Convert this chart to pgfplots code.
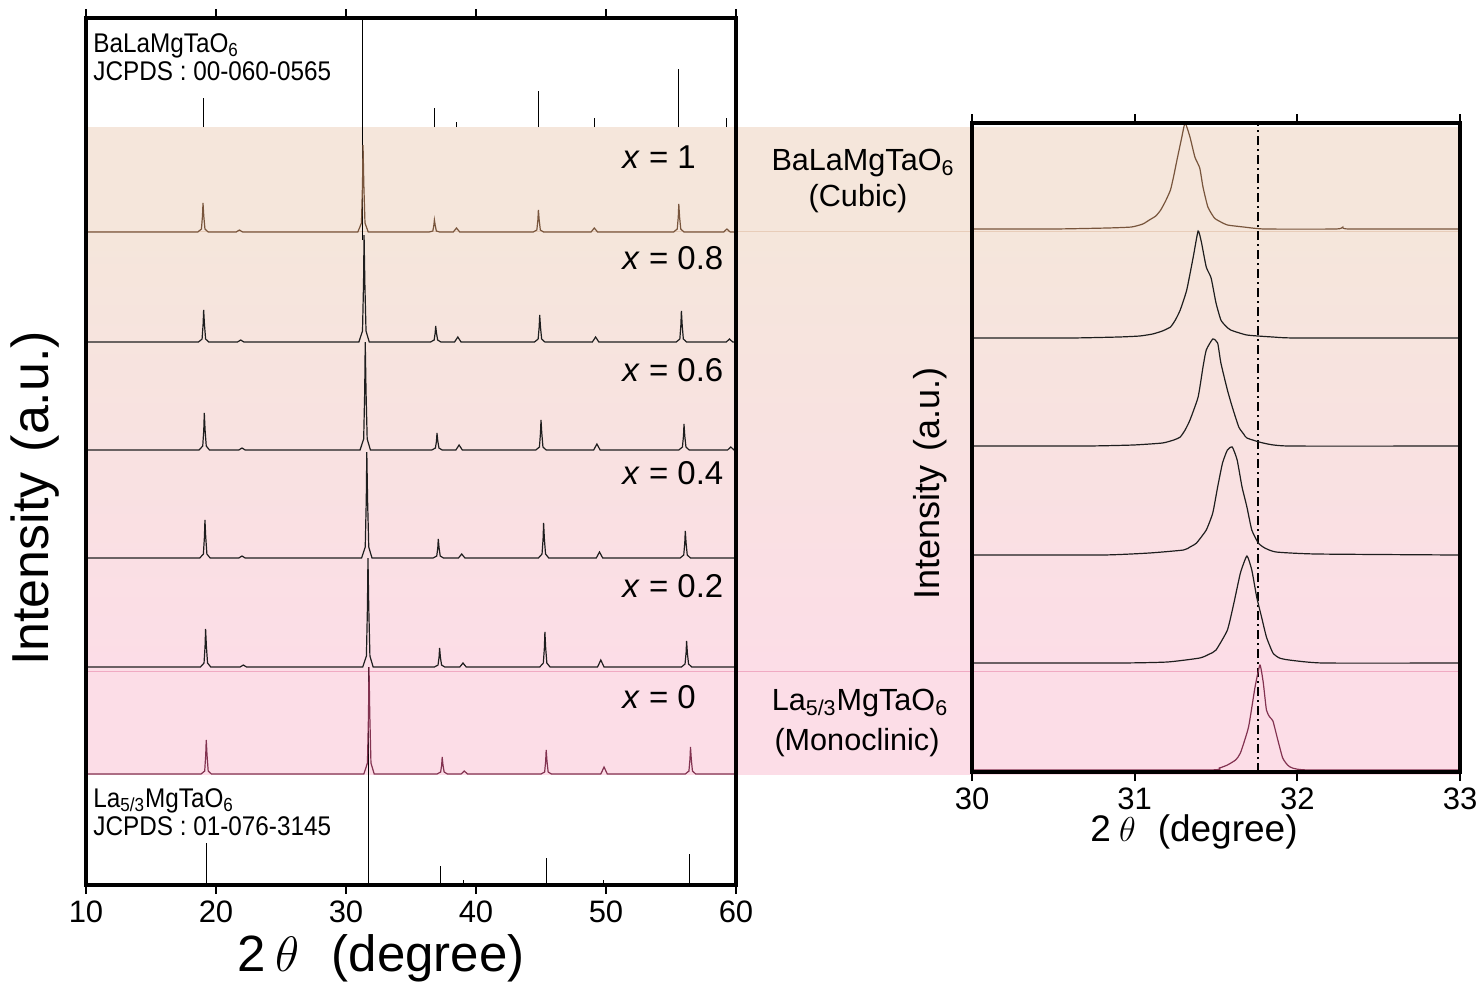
\documentclass[border=0pt]{standalone}
\usepackage{fontspec}
\setmainfont{Liberation Sans}
\newfontfamily\narrowfont[FakeStretch=0.9]{Liberation Sans}
\usepackage{pgfplots}
\pgfplotsset{compat=1.18}
\definecolor{bandbeige}{RGB}{245,230,219}
\definecolor{bandpink}{RGB}{252,221,231}
\definecolor{lnbeige}{RGB}{232,205,185}
\definecolor{lnpink}{RGB}{240,170,195}
\definecolor{cxone}{RGB}{120,85,60}
\definecolor{cxzero}{RGB}{130,50,80}
\definecolor{cmid}{RGB}{30,30,30}
\pgfplotsset{
  xrdaxis/.style={
    scale only axis, anchor=south west,
    ytick=\empty, tick align=outside, major tick length=4.5pt,
    tick style={black, line width=1pt},
    axis line style={line width=2.2pt},
    axis on top, clip=false,
    /pgf/number format/assume math mode=true,
    tick label style={font=\fontsize{15.5}{18}\selectfont},
  },
  stick/.style={black, line width=0.5pt, unbounded coords=jump},
  pat/.style={cmid, line width=0.6pt},
  rpat/.style={cmid, line width=0.6pt, smooth, tension=0.3},
}
\begin{document}
\begin{tikzpicture}
\path[use as bounding box] (0,0) rectangle (741pt,-493.5pt);
% background bands
\fill[bandbeige] (43pt,-63.5pt) rectangle (730pt,-116pt);
\shade[top color=bandbeige,bottom color=bandpink] (43pt,-116pt) rectangle (730pt,-335pt);
\fill[bandpink] (43pt,-335pt) rectangle (730pt,-387.5pt);
\draw[lnbeige,line width=0.5pt] (43pt,-115.5pt) -- (730pt,-115.5pt);
\draw[lnpink,line width=0.5pt] (43pt,-335.5pt) -- (730pt,-335.5pt);

% ---------------- left panel ----------------
\begin{axis}[xrdaxis,
  at={(43pt,-442.5pt)}, width=325pt, height=433.5pt,
  xmin=10, xmax=60, ymin=0, ymax=867,
  xtick={10,20,30,40,50,60},
  xlabel={2\hspace{5pt}$\theta$\hspace{16pt}(degree)},
  xlabel style={font=\fontsize{25.5}{29}\selectfont, at={(axis description cs:0.454,-0.085)}, anchor=center},
  ylabel={Intensity\hspace{10pt}(a.u.)},
  ylabel style={font=\fontsize{26}{30}\selectfont, at={(axis description cs:-0.078,0.446)}, anchor=center},
]
% reference sticks BaLaMgTaO6 (baseline 758)
\addplot[stick] coordinates {(19.0,758)(19.0,787)(19.0,nan)
 (31.3,645)(31.3,867)(31.3,nan)
 (36.8,758)(36.8,777)(36.8,nan)
 (38.5,758)(38.5,763)(38.5,nan)
 (44.8,758)(44.8,794)(44.8,nan)
 (49.1,758)(49.1,767)(49.1,nan)
 (55.6,758)(55.6,816)(55.6,nan)
 (59.3,758)(59.3,767)};
% reference sticks La5/3MgTaO6 (baseline 0)
\addplot[stick] coordinates {(19.3,0)(19.3,42)(19.3,nan)
 (31.75,0)(31.75,218)(31.75,nan)
 (37.3,0)(37.3,19)(37.3,nan)
 (39.0,0)(39.0,5)(39.0,nan)
 (45.4,0)(45.4,27)(45.4,nan)
 (49.8,0)(49.8,5)(49.8,nan)
 (56.4,0)(56.4,31)};
% x = 1
\addplot[cxone, line width=0.6pt] coordinates {(10,653)
 (18.6,653)(18.88,656)(18.96,669)(19.0,682)(19.06,669)(19.15,656)(19.4,653)
 (21.55,653)(21.8,655)(22.05,653)
 (30.91,653)(31.19,662)(31.27,701)(31.31,740)(31.37,701)(31.46,662)(31.71,653)
 (36.4,653)(36.68,654)(36.76,660)(36.8,665)(36.86,660)(36.95,654)(37.2,653)
 (38.25,653)(38.5,657)(38.75,653)
 (44.4,653)(44.68,655)(44.76,665)(44.8,675)(44.86,665)(44.95,655)(45.2,653)
 (48.85,653)(49.1,657)(49.35,653)
 (55.2,653)(55.48,656)(55.56,668)(55.6,681)(55.66,668)(55.75,656)(56.0,653)
 (59.05,653)(59.3,656)(59.55,653)(60,653)};
% x = 0.8
\addplot[pat] coordinates {(10,543)
 (18.65,543)(18.93,546)(19.01,561)(19.05,575)(19.11,561)(19.2,546)(19.45,543)
 (21.65,543)(21.9,545)(22.15,543)
 (30.99,543)(31.27,554)(31.35,602)(31.39,650)(31.45,602)(31.54,554)(31.79,543)
 (36.5,543)(36.78,545)(36.86,552)(36.9,559)(36.96,552)(37.05,545)(37.3,543)
 (38.35,543)(38.6,548)(38.85,543)
 (44.5,543)(44.78,546)(44.86,558)(44.9,570)(44.96,558)(45.05,546)(45.3,543)
 (48.95,543)(49.2,548)(49.45,543)
 (55.4,543)(55.68,546)(55.76,560)(55.8,574)(55.86,560)(55.95,546)(56.2,543)
 (59.25,543)(59.5,546)(59.75,543)(60,543)};
% x = 0.6
\addplot[pat] coordinates {(10,435)
 (18.7,435)(18.98,439)(19.06,455)(19.1,472)(19.16,455)(19.25,439)(19.5,435)
 (21.75,435)(22.0,437)(22.25,435)
 (31.08,435)(31.36,446)(31.44,494)(31.48,543)(31.54,494)(31.63,446)(31.88,435)
 (36.6,435)(36.88,437)(36.96,444)(37.0,452)(37.06,444)(37.15,437)(37.4,435)
 (38.45,435)(38.7,440)(38.95,435)
 (44.6,435)(44.88,438)(44.96,452)(45.0,465)(45.06,452)(45.15,438)(45.4,435)
 (49.05,435)(49.3,441)(49.55,435)
 (55.6,435)(55.88,438)(55.96,449)(56.0,461)(56.06,449)(56.15,438)(56.4,435)
 (59.35,435)(59.6,438)(59.85,435)(60,435)};
% x = 0.4
\addplot[pat] coordinates {(10,327)
 (18.75,327)(19.03,331)(19.11,348)(19.15,365)(19.21,348)(19.3,331)(19.55,327)
 (21.75,327)(22.0,329)(22.25,327)
 (31.2,327)(31.48,338)(31.56,385)(31.6,433)(31.66,385)(31.75,338)(32.0,327)
 (36.7,327)(36.98,329)(37.06,337)(37.1,346)(37.16,337)(37.25,329)(37.5,327)
 (38.65,327)(38.9,331)(39.15,327)
 (44.8,327)(45.08,331)(45.16,346)(45.2,362)(45.26,346)(45.35,331)(45.6,327)
 (49.25,327)(49.5,333)(49.75,327)
 (55.7,327)(55.98,330)(56.06,342)(56.1,354)(56.16,342)(56.25,330)(56.5,327)
 (60,327)};
% x = 0.2
\addplot[pat] coordinates {(10,218)
 (18.8,218)(19.08,222)(19.16,239)(19.2,256)(19.26,239)(19.35,222)(19.6,218)
 (21.85,218)(22.1,220)(22.35,218)
 (31.29,218)(31.57,229)(31.65,278)(31.69,327)(31.75,278)(31.84,229)(32.09,218)
 (36.8,218)(37.08,220)(37.16,228)(37.2,237)(37.26,228)(37.35,220)(37.6,218)
 (38.75,218)(39.0,222)(39.25,218)
 (44.9,218)(45.18,222)(45.26,237)(45.3,253)(45.36,237)(45.45,222)(45.7,218)
 (49.35,218)(49.6,225)(49.85,218)
 (55.8,218)(56.08,221)(56.16,232)(56.2,244)(56.26,232)(56.35,221)(56.6,218)
 (60,218)};
% x = 0
\addplot[cxzero, line width=0.6pt] coordinates {(10,111)
 (18.85,111)(19.13,114)(19.21,130)(19.25,145)(19.31,130)(19.4,114)(19.65,111)
 (31.37,111)(31.65,122)(31.73,170)(31.77,218)(31.83,170)(31.92,122)(32.17,111)
 (37.0,111)(37.28,113)(37.36,120)(37.4,128)(37.46,120)(37.55,113)(37.8,111)
 (38.85,111)(39.1,114)(39.35,111)
 (45.0,111)(45.28,113)(45.36,124)(45.4,135)(45.46,124)(45.55,113)(45.8,111)
 (49.6,111)(49.85,118)(50.1,111)
 (56.1,111)(56.38,114)(56.46,126)(56.5,138)(56.56,126)(56.65,114)(56.9,111)
 (60,111)};
\end{axis}

% ---------------- right panel ----------------
\begin{axis}[xrdaxis,
  at={(486pt,-386pt)}, width=244pt, height=324.5pt,
  xmin=30, xmax=33, ymin=0, ymax=649,
  xtick={30,31,32,33},
  xlabel={2\hspace{4pt}$\theta$\hspace{11pt}(degree)},
  xlabel style={font=\fontsize{18.5}{22}\selectfont, at={(axis description cs:0.455,-0.092)}, anchor=center},
  ylabel={Intensity\hspace{7pt}(a.u.)},
  ylabel style={font=\fontsize{18}{21}\selectfont, at={(axis description cs:-0.086,0.444)}, anchor=center},
]
\addplot[black, line width=1pt, dash pattern=on 4.5pt off 2pt on 1pt off 2pt] coordinates {(31.76,0)(31.76,649)};
% x = 1
\addplot[cxone, line width=0.6pt, smooth, tension=0.3] coordinates {(30.0,543)(30.5,543)(30.83,544)(30.98,545)(31.05,548)(31.09,552)(31.13,556)(31.16,562)(31.19,571)(31.22,582)(31.24,596)(31.26,612)(31.29,635)(31.31,649)(31.34,635)(31.37,615)(31.40,604)(31.42,585)(31.45,565)(31.49,554)(31.53,550)(31.57,547)(31.67,545)(31.8,543)(32.24,543)(32.28,545)(32.32,543)(33,543)};
% x = 0.8
\addplot[rpat] coordinates {(30,434)(30.6,434)(30.9,435)(31.03,436)(31.11,438)(31.17,441)(31.22,445)(31.25,452)(31.28,462)(31.32,482)(31.36,515)(31.39,541)(31.41,530)(31.44,505)(31.47,494)(31.50,469)(31.53,452)(31.56,446)(31.59,442)(31.69,437)(31.85,435)(32.0,434)(33,434)};
% x = 0.6
\addplot[rpat] coordinates {(30,326)(30.7,326)(30.99,327)(31.17,329)(31.24,332)(31.28,335)(31.31,342)(31.34,352)(31.39,375)(31.42,405)(31.44,422)(31.48,433)(31.51,429)(31.53,409)(31.57,382)(31.60,365)(31.64,345)(31.67,338)(31.69,334)(31.79,329)(31.95,326)(33,326)};
% x = 0.4
\addplot[rpat] coordinates {(30,217)(30.8,217)(31.09,219)(31.30,222)(31.34,225)(31.38,229)(31.44,242)(31.48,259)(31.51,285)(31.54,309)(31.57,322)(31.60,325)(31.63,312)(31.66,285)(31.69,265)(31.72,242)(31.76,229)(31.80,224)(31.87,220)(32.12,218)(33,217)};
% x = 0.2
\addplot[rpat] coordinates {(30,109)(30.9,109)(31.20,110)(31.40,114)(31.46,118)(31.50,122)(31.57,142)(31.61,169)(31.65,199)(31.69,216)(31.72,202)(31.75,175)(31.78,155)(31.81,135)(31.85,119)(31.89,114)(31.95,112)(32.16,109)(33,109)};
% x = 0
\addplot[cxzero, line width=0.6pt, smooth, tension=0.3] coordinates {(30,2)(31.44,2)(31.52,4)(31.57,7)(31.62,12)(31.65,19)(31.70,45)(31.74,85)(31.77,107)(31.79,90)(31.81,62)(31.83,55)(31.85,51)(31.88,32)(31.91,14)(31.94,7)(31.97,4)(32.08,2)(33,2)};
\end{axis}

% ---------------- annotations ----------------
\begin{scope}[every node/.style={inner sep=0pt}]
\node[anchor=base west, font=\narrowfont\fontsize{13.5}{16}\selectfont] at (46.5pt,-26pt) {BaLaMgTaO\textsubscript{6}};
\node[anchor=base west, font=\narrowfont\fontsize{13.5}{16}\selectfont] at (46.5pt,-40pt) {JCPDS : 00-060-0565};
\node[anchor=base west, font=\narrowfont\fontsize{13.5}{16}\selectfont] at (46.5pt,-403.5pt) {La\textsubscript{5/3}MgTaO\textsubscript{6}};
\node[anchor=base west, font=\narrowfont\fontsize{13.5}{16}\selectfont] at (46.5pt,-417.5pt) {JCPDS : 01-076-3145};
\foreach \lab/\yy in {1/-84, 0.8/-134.5, 0.6/-190.5, 0.4/-242, 0.2/-298.5, 0/-354}{
  \node[anchor=base west, font=\fontsize{16.5}{19}\selectfont] at (311pt,\yy pt) {\textit{x} = \lab};
}
\node[anchor=base, font=\fontsize{15.3}{18}\selectfont] at (431.5pt,-85pt) {BaLaMgTaO\textsubscript{6}};
\node[anchor=base, font=\fontsize{15.3}{18}\selectfont] at (429pt,-103pt) {(Cubic)};
\node[anchor=base, font=\fontsize{15.3}{18}\selectfont] at (430pt,-355pt) {La\textsubscript{5/3}MgTaO\textsubscript{6}};
\node[anchor=base, font=\fontsize{15.3}{18}\selectfont] at (428.5pt,-375pt) {(Monoclinic)};
\end{scope}
\end{tikzpicture}
\end{document}
